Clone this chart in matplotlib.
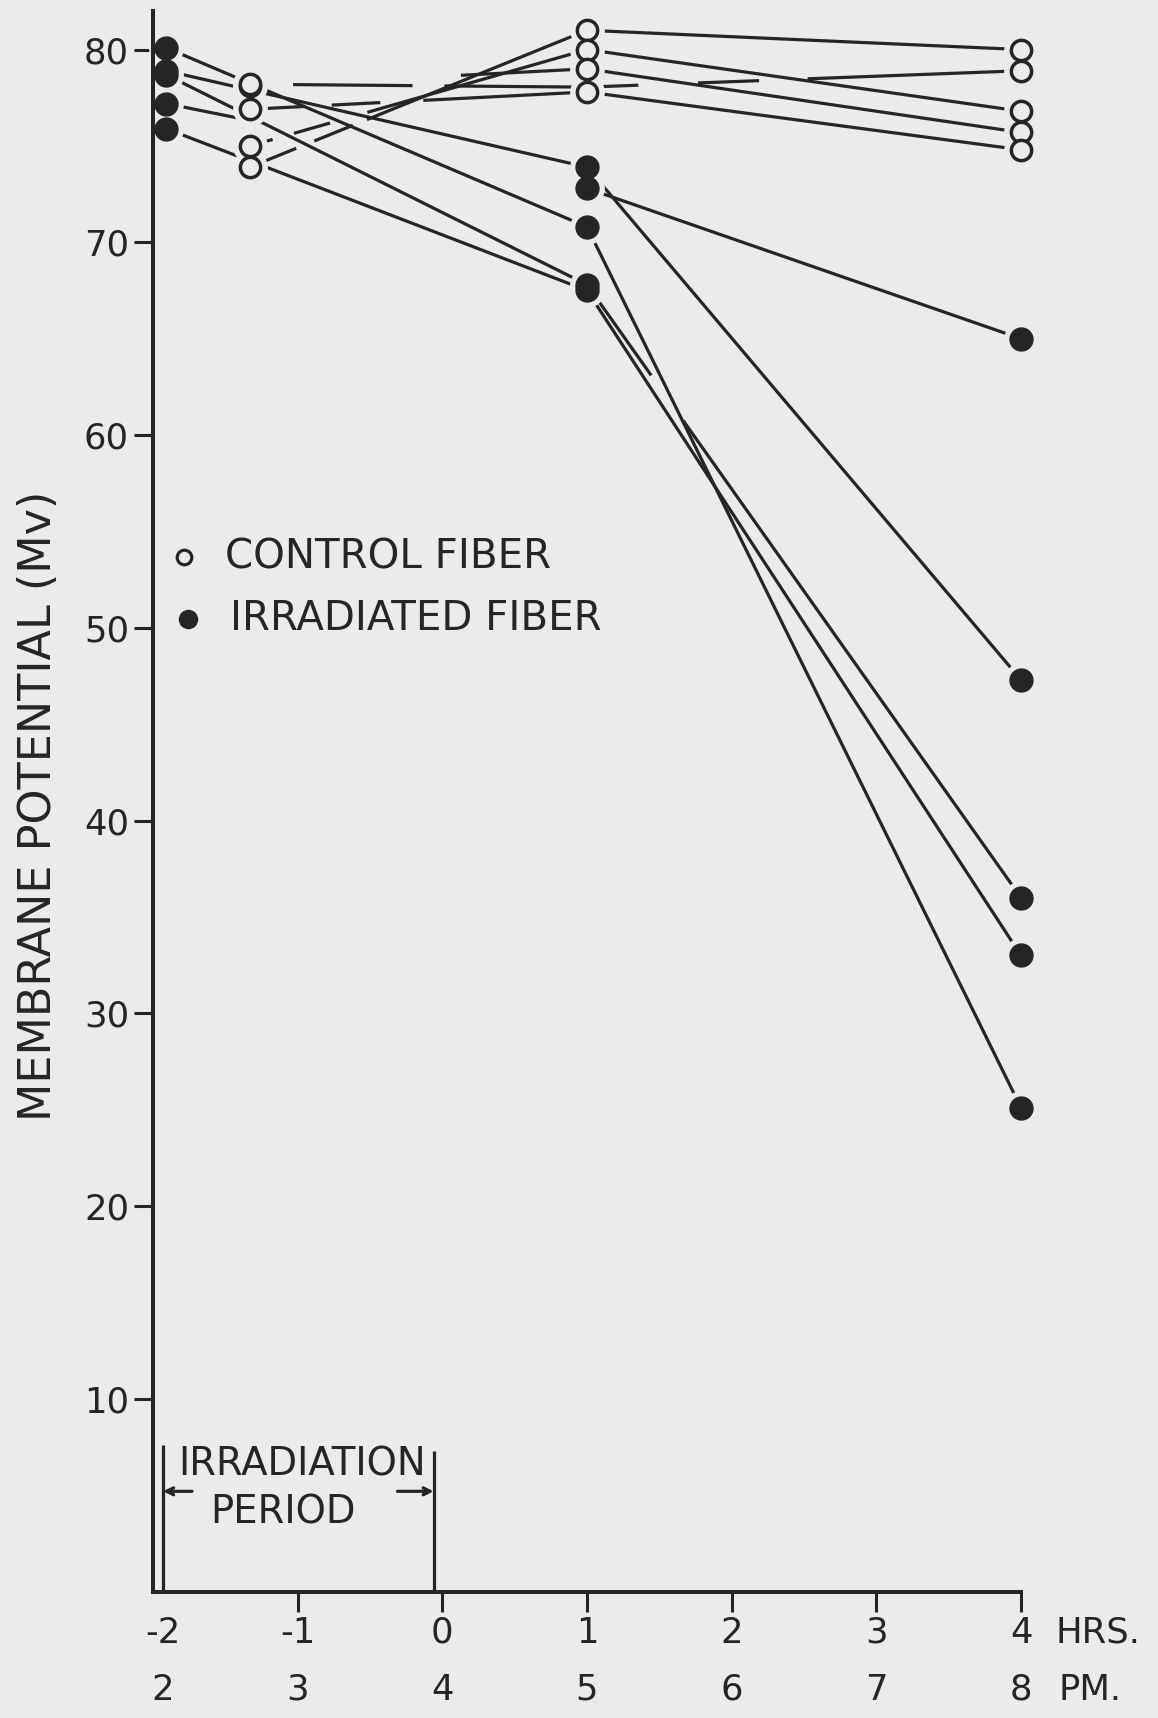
import matplotlib
matplotlib.use('Agg')
import matplotlib.pyplot as plt

plt.rcParams['font.family'] = ['DejaVu Sans']
plt.rcParams['lines.scale_dashes'] = False
plt.rcParams['lines.solid_capstyle'] = 'butt'
plt.rcParams['lines.dash_capstyle'] = 'butt'

BG = '#ebebeb'
INK = '#252525'

# ---------------- data ----------------
hour_ticks = [-2, -1, 0, 1, 2, 3, 4]
hour_labels = ['-2', '-1', '0', '1', '2', '3', '4']
clock_labels = ['2', '3', '4', '5', '6', '7', '8']
mv_ticks = [10, 20, 30, 40, 50, 60, 70, 80]

# irradiated fibers (hours, membrane potential mV)
irr_hours = [-1.91, 1.0, 4.0]
irr_a = [78.9, 73.9, 47.3]
irr_b = [77.2, 72.8, 65.0]
irr_c = [80.1, 70.8, 25.1]
irr_d = [78.7, 67.8, 36.0]
irr_e = [75.9, 67.5, 33.0]

# control fibers
ctl_hours = [-1.33, 1.0, 4.0]
ctl_a = [73.9, 81.0, 80.0]
ctl_b = [75.0, 80.0, 76.8]
ctl_c = [78.1, 79.0, 75.7]
ctl_d = [76.9, 77.8, 74.8]
ctl_e = [78.2, 78.05, 78.9]   # dashed fiber, no reading marked at 1 hr

irradiation_start = -1.93
irradiation_end = -0.06

# ---------------- figure ----------------
fig = plt.figure(figsize=(11.58, 17.18), dpi=100, facecolor=BG)
ax = fig.add_axes([0.1321, 0.0736, 0.7496, 0.9200])
ax.set_facecolor(BG)
ax.set_xlim(-2, 4)
ax.set_ylim(0, 82)
for s in ['top', 'right']:
    ax.spines[s].set_visible(False)
for s in ['left', 'bottom']:
    ax.spines[s].set_linewidth(2.9)
    ax.spines[s].set_color(INK)

ax.set_yticks(mv_ticks)
ax.set_yticklabels([str(v) for v in mv_ticks], fontsize=25.5, color=INK)
ax.tick_params(axis='y', direction='out', length=13.7, width=2.2, pad=3.5, colors=INK)
ax.set_xticks(hour_ticks[1:])
ax.set_xticklabels([])
ax.tick_params(axis='x', direction='out', length=14.4, width=2.2, colors=INK)

LW = 2.3


def draw_fiber(hours, values, styles, filled, marker_idx=None):
    for i in range(len(hours) - 1):
        ax.plot(hours[i:i + 2], values[i:i + 2], color=INK, lw=LW,
                linestyle=styles[i], zorder=2, clip_on=False)
    idx = range(len(hours)) if marker_idx is None else marker_idx
    mx = [hours[i] for i in idx]
    my = [values[i] for i in idx]
    ax.plot(mx, my, ls='none', marker='o', ms=24, mfc=BG, mec=BG,
            zorder=2.3, clip_on=False)
    if filled:
        ax.plot(mx, my, ls='none', marker='o', ms=16.5, mfc=INK, mec=INK,
                mew=1, zorder=4, clip_on=False)
    else:
        ax.plot(mx, my, ls='none', marker='o', ms=14.6, mfc=BG, mec=INK,
                mew=2.5, zorder=4, clip_on=False)


S = '-'
draw_fiber(irr_hours, irr_a, [S, S], True)
draw_fiber(irr_hours, irr_b, [(0, (52, 3000)), S], True)
draw_fiber(irr_hours, irr_c, [S, S], True)
draw_fiber(irr_hours, irr_d, [S, (0, (80, 40, 3000, 1))], True)
draw_fiber(irr_hours, irr_e, [S, S], True)

draw_fiber(ctl_hours, ctl_a, [(0, (36, 14, 30, 11, 3000, 1)), S], False)
draw_fiber(ctl_hours, ctl_b, [(0, (17, 16, 27, 28, 3000, 1)), S], False)
draw_fiber(ctl_hours, ctl_c, [(0, (0.1, 152, 3000, 1)), S], False)
draw_fiber(ctl_hours, ctl_d, [(0, (40, 19, 35, 31, 3000, 1)), S], False)
draw_fiber(ctl_hours, ctl_e, [(0, (0.1, 31, 86, 23, 3000, 1)),
                              (0, (37, 43, 44, 35, 3000, 1))], False,
           marker_idx=[0, 2])

# ---------------- irradiation period ----------------
ax.plot([irradiation_start] * 2, [0, 7.6], color=INK, lw=LW, zorder=2)
ax.plot([irradiation_end] * 2, [0, 7.3], color=INK, lw=LW, zorder=2)
arrow = dict(arrowstyle='->,head_length=0.5,head_width=0.25', color=INK, lw=LW,
             shrinkA=0, shrinkB=0)
ax.annotate('', xy=(irradiation_start, 5.2), xytext=(irradiation_start + 0.2, 5.2),
            arrowprops=arrow)
ax.annotate('', xy=(irradiation_end, 5.2), xytext=(irradiation_end - 0.25, 5.2),
            arrowprops=arrow)
ax.text(-0.97, 6.6, 'IRRADIATION', fontsize=27.8, ha='center', va='center', color=INK)
ax.text(-1.1, 4.1, 'PERIOD', fontsize=27.8, ha='center', va='center', color=INK)

# ---------------- legend ----------------
ax.plot([-1.785], [53.65], ls='none', marker='o', ms=10.5, mfc=BG, mec=INK, mew=2.3, zorder=4)
ax.text(-1.50, 53.65, 'CONTROL FIBER', fontsize=29, ha='left', va='center', color=INK)
ax.plot([-1.757], [50.44], ls='none', marker='o', ms=13, mfc=INK, mec=INK, zorder=4)
ax.text(-1.47, 50.44, 'IRRADIATED FIBER', fontsize=29, ha='left', va='center', color=INK)

# ---------------- x labels (two rows) ----------------
label_x = [-1.93, -1, 0, 1, 2, 3, 4]
for x, h, c in zip(label_x, hour_labels, clock_labels):
    ax.annotate(h, xy=(x, -0.0325), xycoords=('data', 'axes fraction'), ha='center',
                va='baseline', fontsize=25.5, color=INK, annotation_clip=False)
    ax.annotate(c, xy=(x, -0.0686), xycoords=('data', 'axes fraction'), ha='center',
                va='baseline', fontsize=25.5, color=INK, annotation_clip=False)
ax.annotate('HRS.', xy=(4.24, -0.0325), xycoords=('data', 'axes fraction'), ha='left',
            va='baseline', fontsize=25.5, color=INK, annotation_clip=False)
ax.annotate('PM.', xy=(4.26, -0.0686), xycoords=('data', 'axes fraction'), ha='left',
            va='baseline', fontsize=25.5, color=INK, annotation_clip=False)

fig.text(0.033, 0.531, 'MEMBRANE POTENTIAL (Mv)', rotation=90, fontsize=32,
         ha='center', va='center', color=INK)

fig.savefig('out.png', dpi=100, facecolor=BG)
